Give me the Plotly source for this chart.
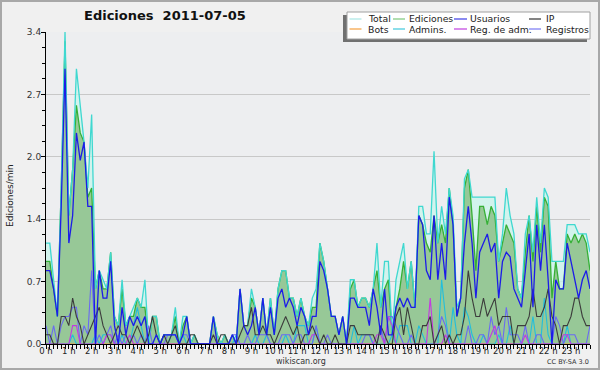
import plotly.graph_objects as go

# ---------------- data (edits per minute, 10-minute buckets, 2011-07-05) -------------
minutes = list(range(0, 1440, 10))
hour_labels = [f"{h} h" for h in range(24)]

total = [1.1, 1.1, 0.7, 0.3, 1.7, 3.4, 1.4, 1.9, 3.0, 2.6,
         2.2, 1.7, 2.5, 0.6, 0.8, 0.7, 0.6, 1.0, 0.3, 0.2,
         0.7, 0.2, 0.3, 0.4, 0.5, 0.4, 0.7, 0.0, 0.3, 0.3,
         0.0, 0.1, 0.1, 0.1, 0.4, 0.0, 0.3, 0.3, 0.0, 0.1,
         0.0, 0.0, 0.0, 0.0, 0.3, 0.1, 0.0, 0.1, 0.0, 0.1,
         0.0, 0.6, 0.2, 0.2, 0.6, 0.4, 0.1, 0.5, 0.1, 0.5,
         0.1, 0.6, 0.8, 0.8, 0.5, 0.5, 0.3, 0.5, 0.3, 0.2,
         0.5, 0.6, 1.1, 0.9, 0.6, 0.3, 0.3, 0.1, 0.3, 0.0,
         0.7, 0.7, 0.4, 0.5, 0.5, 0.4, 0.6, 1.1, 0.4, 0.9,
         0.9, 0.1, 0.7, 0.9, 1.1, 0.6, 0.9, 0.4, 1.5, 1.5,
         1.2, 1.2, 2.1, 1.1, 1.5, 1.2, 1.7, 1.4, 0.4, 0.5,
         1.8, 1.9, 1.6, 1.6, 1.6, 1.6, 1.6, 1.6, 1.6, 0.9,
         1.2, 1.7, 1.4, 1.2, 0.6, 0.5, 1.2, 1.4, 1.0, 1.6,
         1.1, 1.7, 1.6, 0.9, 0.9, 0.9, 0.9, 1.3, 1.3, 1.3,
         1.2, 1.2, 1.2, 1.0]

ediciones = [0.9, 0.9, 0.6, 0.3, 1.7, 3.3, 1.4, 1.9, 2.6, 2.3,
             2.2, 1.6, 1.7, 0.6, 0.8, 0.6, 0.6, 1.0, 0.3, 0.2,
             0.6, 0.2, 0.3, 0.3, 0.5, 0.4, 0.4, 0.0, 0.3, 0.3,
             0.0, 0.1, 0.1, 0.1, 0.3, 0.0, 0.2, 0.3, 0.0, 0.1,
             0.0, 0.0, 0.0, 0.0, 0.3, 0.1, 0.0, 0.1, 0.0, 0.1,
             0.0, 0.6, 0.2, 0.2, 0.5, 0.4, 0.1, 0.5, 0.1, 0.5,
             0.1, 0.6, 0.8, 0.8, 0.5, 0.5, 0.3, 0.5, 0.3, 0.2,
             0.4, 0.4, 1.1, 0.9, 0.6, 0.3, 0.3, 0.1, 0.3, 0.0,
             0.6, 0.7, 0.4, 0.5, 0.5, 0.4, 0.6, 0.8, 0.4, 0.6,
             0.7, 0.1, 0.4, 0.6, 0.9, 0.6, 0.9, 0.4, 1.4, 1.3,
             1.1, 1.0, 1.4, 1.1, 1.3, 1.1, 1.7, 1.3, 0.3, 0.5,
             1.7, 1.9, 1.4, 0.8, 1.5, 1.5, 1.3, 1.5, 1.4, 0.9,
             1.1, 1.3, 1.2, 1.1, 0.6, 0.5, 1.0, 1.4, 0.9, 1.5,
             1.0, 1.6, 1.5, 0.5, 0.9, 0.6, 0.6, 1.2, 1.1, 1.2,
             1.1, 1.2, 1.1, 0.8]

usuarios = [0.8, 0.8, 0.6, 0.3, 1.5, 3.0, 1.1, 1.4, 2.3, 2.0,
            2.2, 1.5, 1.5, 0.0, 0.8, 0.5, 0.5, 0.9, 0.2, 0.0,
            0.4, 0.1, 0.3, 0.2, 0.3, 0.2, 0.3, 0.0, 0.0, 0.1,
            0.0, 0.1, 0.1, 0.1, 0.1, 0.0, 0.1, 0.3, 0.0, 0.0,
            0.0, 0.0, 0.0, 0.0, 0.3, 0.0, 0.0, 0.0, 0.0, 0.1,
            0.0, 0.6, 0.2, 0.1, 0.2, 0.4, 0.1, 0.5, 0.1, 0.4,
            0.1, 0.5, 0.6, 0.4, 0.5, 0.4, 0.2, 0.4, 0.3, 0.1,
            0.3, 0.3, 0.9, 0.8, 0.6, 0.3, 0.3, 0.1, 0.3, 0.0,
            0.5, 0.5, 0.4, 0.4, 0.4, 0.2, 0.6, 0.4, 0.1, 0.6,
            0.1, 0.1, 0.4, 0.5, 0.4, 0.5, 0.4, 0.4, 1.4, 1.3,
            0.8, 0.7, 1.4, 0.7, 1.1, 0.7, 1.6, 1.3, 0.3, 0.5,
            1.1, 1.5, 1.1, 0.5, 1.0, 1.1, 1.2, 1.0, 1.1, 0.5,
            0.9, 1.0, 0.95, 0.6, 0.5, 0.4, 0.8, 1.2, 0.4, 1.3,
            0.8, 1.3, 0.7, 0.0, 0.7, 0.6, 0.6, 1.1, 0.9, 0.7,
            0.5, 0.7, 0.8, 0.6]

ip = [0.1, 0.1, 0.0, 0.0, 0.3, 0.3, 0.2, 0.5, 0.3, 0.2,
      0.0, 0.1, 0.2, 0.3, 0.4, 0.2, 0.1, 0.0, 0.1, 0.2,
      0.1, 0.1, 0.0, 0.1, 0.2, 0.1, 0.0, 0.1, 0.3, 0.1,
      0.0, 0.1, 0.0, 0.1, 0.2, 0.0, 0.0, 0.0, 0.1, 0.1,
      0.0, 0.0, 0.0, 0.0, 0.1, 0.0, 0.1, 0.1, 0.0, 0.0,
      0.0, 0.1, 0.2, 0.2, 0.4, 0.1, 0.1, 0.2, 0.1, 0.1,
      0.0, 0.1, 0.2, 0.3, 0.2, 0.1, 0.2, 0.0, 0.1, 0.1,
      0.2, 0.1, 0.0, 0.1, 0.0, 0.0, 0.1, 0.0, 0.0, 0.0,
      0.2, 0.2, 0.1, 0.1, 0.1, 0.1, 0.1, 0.0, 0.2, 0.1,
      0.0, 0.0, 0.3, 0.4, 0.1, 0.4, 0.2, 0.0, 0.0, 0.2,
      0.2, 0.3, 0.0, 0.1, 0.2, 0.0, 0.1, 0.0, 0.1, 0.1,
      0.3, 0.8, 0.5, 0.3, 0.3, 0.5, 0.3, 0.4, 0.5, 0.2,
      0.3, 0.3, 0.3, 0.0, 0.2, 0.2, 0.2, 0.3, 0.6, 0.3,
      0.3, 0.4, 0.6, 0.3, 0.2, 0.0, 0.2, 0.2, 0.3, 0.5,
      0.5, 0.3, 0.2, 0.2]

bots = [0.0] * 144

admins = [0, 0, 0, 0, 0, 0, 0, 0.1, 0, 0,
          0, 0, 0, 0.1, 0, 0.1, 0.1, 0.1, 0, 0,
          0.1, 0, 0, 0.2, 0.4, 0.2, 0, 0, 0, 0,
          0, 0, 0, 0.1, 0.1, 0, 0.1, 0, 0, 0,
          0, 0, 0, 0, 0, 0, 0, 0, 0, 0,
          0.1, 0, 0, 0, 0, 0.1, 0, 0, 0.1, 0,
          0, 0, 0, 0.1, 0, 0, 0.2, 0.2, 0.2, 0,
          0, 0.2, 0, 0, 0, 0, 0, 0, 0, 0,
          0, 0.2, 0, 0.1, 0.1, 0.1, 0, 0, 0, 0,
          0, 0.1, 0, 0.2, 0.2, 0.2, 0, 0, 0.2, 0.1,
          0, 0, 0, 0, 0.7, 0.3, 0, 0.4, 0.1, 0,
          0.4, 0.3, 0.1, 0, 0, 0.1, 0, 0, 0, 0.1,
          0, 0, 0.2, 0, 0, 0, 0, 0, 0.3, 0,
          0, 0.5, 0.1, 0, 0, 0, 0, 0.2, 0, 0,
          0, 0, 0, 0]

registros = [0.2, 0, 0.2, 0, 0.2, 0.3, 0.3, 0.4, 0.4, 0,
             0.2, 0.1, 0.8, 0, 0.1, 0, 0.1, 0.2, 0, 0.1,
             0, 0.1, 0, 0.1, 0, 0.1, 0, 0.2, 0, 0,
             0, 0, 0.1, 0.1, 0.1, 0, 0.1, 0.1, 0, 0,
             0, 0, 0, 0, 0, 0, 0, 0, 0, 0.1,
             0.1, 0, 0, 0.1, 0, 0, 0.1, 0.1, 0.1, 0,
             0, 0, 0.1, 0.1, 0.1, 0, 0.1, 0.1, 0, 0,
             0, 0.2, 0, 0, 0.1, 0, 0, 0, 0, 0,
             0, 0, 0, 0, 0.1, 0.1, 0, 0, 0.2, 0,
             0.3, 0.3, 0.2, 0.1, 0, 0, 0.1, 0, 0, 0,
             0, 0, 0, 0.1, 0.3, 0.2, 0, 0, 0, 0,
             0, 0.2, 0, 0, 0.1, 0.1, 0, 0.3, 0.1, 0.2,
             0, 0.4, 0.1, 0.1, 0.1, 0, 0.2, 0, 0, 0.1,
             0.1, 0, 0, 0, 0.3, 0.2, 0, 0.1, 0.1, 0.1,
             0, 0, 0, 0.2]

reg_adm = [0, 0, 0, 0, 0, 0, 0, 0.2, 0.2, 0,
           0, 0, 0, 0, 0, 0, 0.1, 0.1, 0, 0,
           0, 0, 0.1, 0, 0, 0, 0, 0, 0, 0,
           0, 0, 0, 0, 0, 0, 0, 0, 0, 0,
           0, 0, 0, 0, 0, 0, 0, 0, 0, 0,
           0, 0, 0, 0, 0, 0, 0, 0, 0, 0,
           0, 0, 0, 0, 0, 0, 0, 0, 0, 0,
           0.1, 0.1, 0, 0, 0, 0, 0, 0, 0, 0,
           0, 0, 0, 0, 0, 0, 0, 0.1, 0.1, 0,
           0.3, 0.2, 0, 0, 0, 0, 0, 0, 0, 0,
           0, 0.5, 0, 0, 0, 0.1, 0, 0, 0, 0,
           0, 0, 0, 0, 0, 0, 0, 0.1, 0.2, 0,
           0, 0, 0, 0, 0, 0, 0.1, 0, 0, 0,
           0, 0, 0, 0, 0, 0, 0.1, 0.1, 0, 0,
           0, 0, 0, 0]

y_ticks = [0.0, 0.68, 1.36, 2.04, 2.72, 3.4]
y_tick_text = ["0.0", "0.7", "1.4", "2.0", "2.7", "3.4"]

legend_names = ["Total", "Ediciones", "Usuarios", "IP",
                "Bots", "Admins.", "Reg. de adm.", "Registros"]
legend_colors = ["#a8e6e4", "#7cc87c", "#3c3ce6", "#333333",
                 "#f5a040", "#40c8dc", "#c040e0", "#7878f4"]

for s in (total, ediciones, usuarios, ip, bots, admins, registros, reg_adm):
    assert len(s) == len(minutes)

# ---------------- geometry -------------------------------------------------------------
W, H = 600, 370
ML, MR, MT, MB = 46, 10, 32, 26
PW, PH = W - ML - MR, H - MT - MB


def px(x):
    return (x - ML) / PW


def py(y):
    return (H - MB - y) / PH


FONT = "DejaVu Sans, Verdana, sans-serif"
x = [m / 60 for m in minutes]

fig = go.Figure()


def line(y, color, width=1.1, name=""):
    fig.add_trace(go.Scatter(x=x, y=y, mode="lines", name=name, showlegend=False,
                             line=dict(color=color, width=width), hoverinfo="skip"))


# filled areas
fig.add_trace(go.Scatter(x=x, y=total, mode="lines", fill="tozeroy", showlegend=False,
                         fillcolor="rgba(200,244,236,0.75)", line=dict(width=0),
                         hoverinfo="skip", name="Total"))
fig.add_trace(go.Scatter(x=x, y=ediciones, mode="lines", fill="tozeroy", showlegend=False,
                         fillcolor="#97c897", line=dict(color="#36b036", width=1.3),
                         hoverinfo="skip", name="Ediciones"))
line(total, "#3fd8d0", 1.3, "Total")
line(bots, "#f5a040", 1.0, "Bots")
line(admins, "#22bedc", 1.1, "Admins.")
line(registros, "#6a6af2", 1.1, "Registros")
line(reg_adm, "#c43ae0", 1.1, "Reg. de adm.")
line(ip, "#3c3c3c", 1.1, "IP")
line(usuarios, "#1c1ce8", 1.3, "Usuarios")

shapes = []
annotations = []

# outer frame
shapes.append(dict(type="rect", xref="paper", yref="paper",
                   x0=px(1), x1=px(599), y0=py(369), y1=py(1),
                   line=dict(color="#a8a8a8", width=2), fillcolor="rgba(0,0,0,0)", layer="below"))

# legend (shadow + box)
shapes.append(dict(type="rect", xref="paper", yref="paper",
                   x0=px(343), x1=px(587), y0=py(42), y1=py(15),
                   line=dict(width=0), fillcolor="#707070"))
shapes.append(dict(type="rect", xref="paper", yref="paper",
                   x0=px(347), x1=px(590), y0=py(39), y1=py(12),
                   line=dict(color="#a0a0a0", width=1), fillcolor="#ffffff"))

col_line_x = [(349.5, 361.5), (393, 405), (454, 467), (529, 541)]
col_text_x = [365.5, 407, 468, 543.5]
row_y = [19, 29]
for k, (name, color) in enumerate(zip(legend_names, legend_colors)):
    r, c = divmod(k, 4)
    shapes.append(dict(type="line", xref="paper", yref="paper",
                       x0=px(col_line_x[c][0]), x1=px(col_line_x[c][1]),
                       y0=py(row_y[r]), y1=py(row_y[r]),
                       line=dict(color=color, width=1.2)))
    annotations.append(dict(text=name, xref="paper", yref="paper",
                            x=px(col_text_x[c]), y=py(row_y[r]),
                            xanchor="left", yanchor="middle", showarrow=False,
                            font=dict(family=FONT, size=9.3, color="#222222")))

# title and texts
annotations.append(dict(text="<b>Ediciones&nbsp; 2011-07-05</b>", xref="paper", yref="paper",
                        x=px(165), y=py(16), xanchor="center", yanchor="middle",
                        showarrow=False, font=dict(family=FONT, size=13, color="#111111")))
annotations.append(dict(text="Ediciones/min", xref="paper", yref="paper",
                        x=px(10), y=py(196), xanchor="center", yanchor="middle",
                        textangle=-90, showarrow=False,
                        font=dict(family=FONT, size=9, color="#222222")))
annotations.append(dict(text="wikiscan.org", xref="paper", yref="paper",
                        x=px(301), y=py(361), xanchor="center", yanchor="middle",
                        showarrow=False, font=dict(family=FONT, size=8, color="#333333")))
annotations.append(dict(text="CC BY-SA 3.0", xref="paper", yref="paper",
                        x=px(591), y=py(362), xanchor="right", yanchor="middle",
                        showarrow=False, font=dict(family=FONT, size=6.5, color="#333333")))

fig.update_layout(
    width=W, height=H,
    margin=dict(l=ML, r=MR, t=MT, b=MB, pad=0),
    paper_bgcolor="#f0f0f0", plot_bgcolor="#edeef0",
    showlegend=False,
    shapes=shapes, annotations=annotations,
    font=dict(family=FONT, size=9, color="#222222"),
)

fig.update_xaxes(
    range=[0, minutes[-1] / 60], tickmode="array",
    tickvals=list(range(24)), ticktext=hour_labels,
    ticks="outside", ticklen=4, tickwidth=1, tickcolor="#000000",
    ticklabelstandoff=-5,
    minor=dict(dtick=1 / 6, tick0=0, ticks="outside", ticklen=4, tickwidth=1, tickcolor="#000000"),
    showline=True, linecolor="#000000", linewidth=1,
    showgrid=False, zeroline=False,
    tickfont=dict(family=FONT, size=8.5, color="#222222"),
    fixedrange=True,
)
fig.update_yaxes(
    range=[0, 3.4], tickmode="array", tickvals=y_ticks, ticktext=y_tick_text,
    ticks="outside", ticklen=4, tickwidth=1, tickcolor="#000000",
    ticklabelstandoff=-2,
    minor=dict(dtick=0.17, tick0=0, ticks="outside", ticklen=3, tickwidth=1,
               tickcolor="#000000", showgrid=False),
    showline=True, linecolor="#000000", linewidth=1,
    showgrid=True, gridcolor="#c8c8c8", gridwidth=1, zeroline=False,
    tickfont=dict(family=FONT, size=9, color="#333333"),
    fixedrange=True,
)

fig.write_html("out.html", config={"displayModeBar": False},
               post_script="document.body.style.margin='0';document.body.style.overflow='hidden';")
